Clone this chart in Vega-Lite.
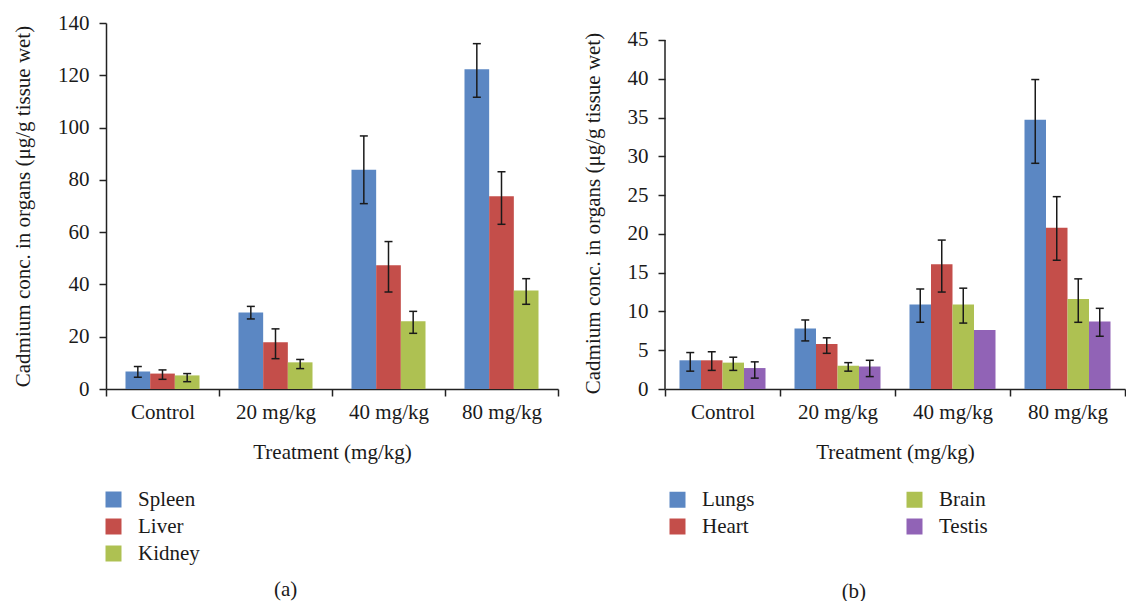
{
  "$schema": "https://vega.github.io/schema/vega-lite/v6.json",
  "padding": {"left": 12, "top": 12, "right": 0, "bottom": 0},
  "background": "white",
  "config": {
    "font": "Liberation Serif",
    "view": {"stroke": null},
    "axis": {"grid": false, "domainColor": "#222222", "tickColor": "#222222", "labelColor": "#1a1a1a", "titleColor": "#1a1a1a", "labelFont": "Liberation Serif", "titleFont": "Liberation Serif", "labelFontSize": 21, "titleFontSize": 21, "titleFontWeight": "normal", "domainWidth": 1.5, "tickWidth": 1.5, "tickSize": 7},
    "legend": {"title": null, "symbolType": "square", "symbolSize": 256, "symbolStrokeWidth": 0, "labelFont": "Liberation Serif", "labelFontSize": 21, "labelColor": "#1a1a1a", "labelOffset": 14, "rowPadding": 5, "labelLimit": 300},
    "title": {"font": "Liberation Serif", "fontSize": 21, "fontWeight": "normal", "color": "#1a1a1a"}
  },
  "datasets": {
    "a": [
      {"dose": "Control", "organ": "Spleen", "value": 6.7, "lo": 4.5, "hi": 8.6},
      {"dose": "Control", "organ": "Liver", "value": 5.9, "lo": 3.7, "hi": 7.3},
      {"dose": "Control", "organ": "Kidney", "value": 5.2, "lo": 2.8, "hi": 5.9},
      {"dose": "20 mg/kg", "organ": "Spleen", "value": 29.3, "lo": 26.8, "hi": 31.6},
      {"dose": "20 mg/kg", "organ": "Liver", "value": 17.9, "lo": 11.6, "hi": 23.0},
      {"dose": "20 mg/kg", "organ": "Kidney", "value": 10.2, "lo": 7.8, "hi": 11.3},
      {"dose": "40 mg/kg", "organ": "Spleen", "value": 83.9, "lo": 70.9, "hi": 96.8},
      {"dose": "40 mg/kg", "organ": "Liver", "value": 47.3, "lo": 37.1, "hi": 56.4},
      {"dose": "40 mg/kg", "organ": "Kidney", "value": 25.9, "lo": 21.3, "hi": 29.7},
      {"dose": "80 mg/kg", "organ": "Spleen", "value": 122.3, "lo": 111.6, "hi": 132.1},
      {"dose": "80 mg/kg", "organ": "Liver", "value": 73.7, "lo": 63.0, "hi": 83.1},
      {"dose": "80 mg/kg", "organ": "Kidney", "value": 37.7, "lo": 32.4, "hi": 42.2}
    ],
    "b": [
      {"dose": "Control", "organ": "Lungs", "value": 3.7, "lo": 2.3, "hi": 4.7},
      {"dose": "Control", "organ": "Heart", "value": 3.7, "lo": 2.4, "hi": 4.8},
      {"dose": "Control", "organ": "Brain", "value": 3.4, "lo": 2.4, "hi": 4.1},
      {"dose": "Control", "organ": "Testis", "value": 2.7, "lo": 1.4, "hi": 3.5},
      {"dose": "20 mg/kg", "organ": "Lungs", "value": 7.8, "lo": 6.2, "hi": 8.9},
      {"dose": "20 mg/kg", "organ": "Heart", "value": 5.8, "lo": 4.6, "hi": 6.6},
      {"dose": "20 mg/kg", "organ": "Brain", "value": 3.0, "lo": 2.3, "hi": 3.4},
      {"dose": "20 mg/kg", "organ": "Testis", "value": 2.9, "lo": 1.6, "hi": 3.7},
      {"dose": "40 mg/kg", "organ": "Lungs", "value": 10.9, "lo": 8.6, "hi": 12.9},
      {"dose": "40 mg/kg", "organ": "Heart", "value": 16.1, "lo": 12.5, "hi": 19.2},
      {"dose": "40 mg/kg", "organ": "Brain", "value": 10.9, "lo": 8.5, "hi": 13.0},
      {"dose": "40 mg/kg", "organ": "Testis", "value": 7.6, "lo": null, "hi": null},
      {"dose": "80 mg/kg", "organ": "Lungs", "value": 34.7, "lo": 29.1, "hi": 39.9},
      {"dose": "80 mg/kg", "organ": "Heart", "value": 20.8, "lo": 16.6, "hi": 24.8},
      {"dose": "80 mg/kg", "organ": "Brain", "value": 11.6, "lo": 8.6, "hi": 14.2},
      {"dose": "80 mg/kg", "organ": "Testis", "value": 8.7, "lo": 6.8, "hi": 10.4}
    ]
  },
  "spacing": 23,
  "resolve": {"scale": {"x": "independent", "y": "independent", "xOffset": "independent", "color": "independent"}, "axis": {"x": "independent", "y": "independent"}, "legend": {"color": "independent"}},
  "hconcat": [
    {
      "width": 452,
      "height": 366,
      "data": {"name": "a"},
      "title": {"text": "(a)", "orient": "bottom", "anchor": "middle", "frame": "bounds", "offset": 15},
      "encoding": {
        "x": {"field": "dose", "type": "nominal", "sort": ["Control", "20 mg/kg", "40 mg/kg", "80 mg/kg"], "scale": {"paddingInner": 0, "paddingOuter": 0}, "title": "Treatment (mg/kg)", "axis": {"labelAngle": 0, "tickBand": "extent", "labelPadding": 5, "titlePadding": 19}},
        "xOffset": {"field": "organ", "type": "nominal", "sort": ["Spleen", "Liver", "Kidney"], "scale": {"paddingInner": 0, "paddingOuter": 0.79}},
        "y": {"type": "quantitative", "title": "Cadmium conc. in organs (μg/g tissue wet)", "scale": {"domain": [0, 140], "nice": false}, "axis": {"values": [0, 20, 40, 60, 80, 100, 120, 140], "titlePadding": 24, "labelPadding": 10}}
      },
      "layer": [
        {
          "mark": {"type": "bar"},
          "encoding": {
            "y": {"field": "value", "type": "quantitative", "title": "Cadmium conc. in organs (μg/g tissue wet)", "scale": {"domain": [0, 140], "nice": false}, "axis": {"values": [0, 20, 40, 60, 80, 100, 120, 140], "titlePadding": 24, "labelPadding": 10}},
            "color": {"field": "organ", "type": "nominal", "scale": {"domain": ["Spleen", "Liver", "Kidney"], "range": ["#5B87C3", "#C44E4A", "#AEC152"]}, "legend": {"orient": "none", "legendX": -3, "legendY": 466, "direction": "vertical"}}
          }
        },
        {
          "mark": {"type": "rule", "color": "#1a1a1a", "strokeWidth": 1.5},
          "encoding": {"y": {"field": "lo", "type": "quantitative", "title": "Cadmium conc. in organs (μg/g tissue wet)", "scale": {"domain": [0, 140], "nice": false}, "axis": {"values": [0, 20, 40, 60, 80, 100, 120, 140], "titlePadding": 24, "labelPadding": 10}}, "y2": {"field": "hi"}}
        },
        {
          "mark": {"type": "tick", "color": "#1a1a1a", "thickness": 1.5, "size": 8, "opacity": 1},
          "encoding": {"y": {"field": "lo", "type": "quantitative", "title": "Cadmium conc. in organs (μg/g tissue wet)", "scale": {"domain": [0, 140], "nice": false}, "axis": {"values": [0, 20, 40, 60, 80, 100, 120, 140], "titlePadding": 24, "labelPadding": 10}}}
        },
        {
          "mark": {"type": "tick", "color": "#1a1a1a", "thickness": 1.5, "size": 8, "opacity": 1},
          "encoding": {"y": {"field": "hi", "type": "quantitative", "title": "Cadmium conc. in organs (μg/g tissue wet)", "scale": {"domain": [0, 140], "nice": false}, "axis": {"values": [0, 20, 40, 60, 80, 100, 120, 140], "titlePadding": 24, "labelPadding": 10}}}
        }
      ]
    },
    {
      "width": 460,
      "height": 366,
      "data": {"name": "b"},
      "title": {"text": "(b)", "orient": "bottom", "anchor": "middle", "frame": "bounds", "offset": 44},
      "encoding": {
        "x": {"field": "dose", "type": "nominal", "sort": ["Control", "20 mg/kg", "40 mg/kg", "80 mg/kg"], "scale": {"paddingInner": 0, "paddingOuter": 0}, "title": "Treatment (mg/kg)", "axis": {"labelAngle": 0, "tickBand": "extent", "labelPadding": 5, "titlePadding": 19}}
      },
      "layer": [
        {
          "mark": {"type": "bar"},
          "encoding": {
            "xOffset": {"field": "organ", "type": "nominal", "sort": ["Lungs", "Heart", "Brain", "Testis"], "scale": {"paddingInner": 0, "paddingOuter": 0.674}},
            "y": {"field": "value", "type": "quantitative", "title": "Cadmium conc. in organs (μg/g tissue wet)", "scale": {"domain": [0, 47.19], "nice": false}, "axis": {"values": [0, 5, 10, 15, 20, 25, 30, 35, 40, 45], "titlePadding": 24, "labelPadding": 10, "domain": false, "titleY": 190}},
            "color": {"field": "organ", "type": "nominal", "scale": {"domain": ["Lungs", "Heart", "Brain", "Testis"], "range": ["#5B87C3", "#C44E4A", "#AEC152", "#9163B6"]}, "legend": {"orient": "none", "legendX": 2, "legendY": 466, "direction": "vertical", "columns": 2, "columnPadding": 149}}
          }
        },
        {
          "mark": {"type": "rule", "color": "#1a1a1a", "strokeWidth": 1.5},
          "encoding": {
            "xOffset": {"field": "organ", "type": "nominal", "sort": ["Lungs", "Heart", "Brain", "Testis"], "scale": {"paddingInner": 0, "paddingOuter": 0.674}},
            "y": {"field": "lo", "type": "quantitative", "title": "Cadmium conc. in organs (μg/g tissue wet)", "scale": {"domain": [0, 47.19], "nice": false}, "axis": {"values": [0, 5, 10, 15, 20, 25, 30, 35, 40, 45], "titlePadding": 24, "labelPadding": 10, "domain": false, "titleY": 190}},
            "y2": {"field": "hi"}
          }
        },
        {
          "mark": {"type": "tick", "color": "#1a1a1a", "thickness": 1.5, "size": 8, "opacity": 1},
          "encoding": {
            "xOffset": {"field": "organ", "type": "nominal", "sort": ["Lungs", "Heart", "Brain", "Testis"], "scale": {"paddingInner": 0, "paddingOuter": 0.674}},
            "y": {"field": "lo", "type": "quantitative", "title": "Cadmium conc. in organs (μg/g tissue wet)", "scale": {"domain": [0, 47.19], "nice": false}, "axis": {"values": [0, 5, 10, 15, 20, 25, 30, 35, 40, 45], "titlePadding": 24, "labelPadding": 10, "domain": false, "titleY": 190}}
          }
        },
        {
          "mark": {"type": "tick", "color": "#1a1a1a", "thickness": 1.5, "size": 8, "opacity": 1},
          "encoding": {
            "xOffset": {"field": "organ", "type": "nominal", "sort": ["Lungs", "Heart", "Brain", "Testis"], "scale": {"paddingInner": 0, "paddingOuter": 0.674}},
            "y": {"field": "hi", "type": "quantitative", "title": "Cadmium conc. in organs (μg/g tissue wet)", "scale": {"domain": [0, 47.19], "nice": false}, "axis": {"values": [0, 5, 10, 15, 20, 25, 30, 35, 40, 45], "titlePadding": 24, "labelPadding": 10, "domain": false, "titleY": 190}}
          }
        },
        {
          "data": {"values": [{"axis": "y"}]},
          "mark": {"type": "rule", "color": "#222222", "strokeWidth": 1.5},
          "encoding": {
            "x": {"datum": "Control", "bandPosition": 0},
            "y": {"datum": 0},
            "y2": {"datum": 45}
          }
        }
      ]
    }
  ]
}
